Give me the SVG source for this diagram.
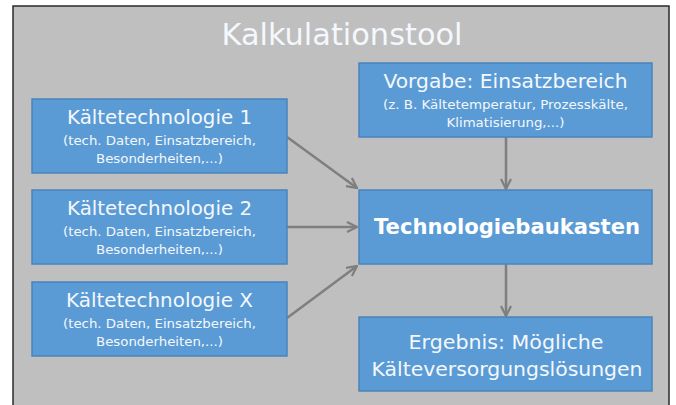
<svg xmlns="http://www.w3.org/2000/svg" width="676" height="405" viewBox="0 0 676 405">
<defs>
<style>
.box{fill:#5b9bd5;stroke:#4a84bb;stroke-width:1.5}
.t{font-family:"DejaVu Sans","Liberation Sans",sans-serif;fill:#f4f8fc;text-anchor:middle}
.h{font-size:20px}
.s{font-size:13px}
.b{font-size:21px;font-weight:bold;fill:#ffffff}
.conn line{stroke:#7f7f7f;stroke-width:2.5}
</style>
<marker id="ah" viewBox="0 0 12 12" refX="11" refY="6" markerWidth="12" markerHeight="12" markerUnits="userSpaceOnUse" orient="auto">
<path d="M1,1 L11,6 L1,11" fill="none" stroke="#7f7f7f" stroke-width="2.2"/>
</marker>
</defs>
<rect x="0" y="0" width="676" height="405" fill="#ffffff"/>
<rect x="13" y="6" width="656" height="405" fill="#bfbfbf" stroke="#2a2a2a" stroke-width="1.5"/>
<text x="342" y="45" class="t" style="font-size:30px" textLength="241" lengthAdjust="spacingAndGlyphs">Kalkulationstool</text>

<g class="conn">
<line x1="287" y1="137" x2="357" y2="188" marker-end="url(#ah)"/>
<line x1="287" y1="227" x2="357" y2="227" marker-end="url(#ah)"/>
<line x1="287" y1="318" x2="357" y2="266" marker-end="url(#ah)"/>
<line x1="506" y1="137" x2="506" y2="189" marker-end="url(#ah)"/>
<line x1="506" y1="264" x2="506" y2="316" marker-end="url(#ah)"/>
</g>

<g id="kt1">
<rect class="box" x="32" y="99" width="255" height="74"/>
<text class="t h" x="159.5" y="124" textLength="185" lengthAdjust="spacingAndGlyphs">Kältetechnologie 1</text>
<text class="t s" x="159.5" y="145" textLength="193" lengthAdjust="spacingAndGlyphs">(tech. Daten, Einsatzbereich,</text>
<text class="t s" x="159.5" y="163" textLength="127" lengthAdjust="spacingAndGlyphs">Besonderheiten,...)</text>
</g>
<g id="kt2">
<rect class="box" x="32" y="190" width="255" height="74"/>
<text class="t h" x="159.5" y="215" textLength="185" lengthAdjust="spacingAndGlyphs">Kältetechnologie 2</text>
<text class="t s" x="159.5" y="236" textLength="193" lengthAdjust="spacingAndGlyphs">(tech. Daten, Einsatzbereich,</text>
<text class="t s" x="159.5" y="254" textLength="127" lengthAdjust="spacingAndGlyphs">Besonderheiten,...)</text>
</g>
<g id="ktx">
<rect class="box" x="32" y="282" width="255" height="74"/>
<text class="t h" x="159.5" y="307" textLength="187" lengthAdjust="spacingAndGlyphs">Kältetechnologie X</text>
<text class="t s" x="159.5" y="328" textLength="193" lengthAdjust="spacingAndGlyphs">(tech. Daten, Einsatzbereich,</text>
<text class="t s" x="159.5" y="346" textLength="127" lengthAdjust="spacingAndGlyphs">Besonderheiten,...)</text>
</g>
<g id="vorgabe">
<rect class="box" x="359" y="63" width="293" height="74"/>
<text class="t h" x="505.5" y="88" textLength="244" lengthAdjust="spacingAndGlyphs">Vorgabe: Einsatzbereich</text>
<text class="t s" x="505.5" y="109" textLength="245" lengthAdjust="spacingAndGlyphs">(z. B. Kältetemperatur, Prozesskälte,</text>
<text class="t s" x="505.5" y="127" textLength="118" lengthAdjust="spacingAndGlyphs">Klimatisierung,...)</text>
</g>
<g id="baukasten">
<rect class="box" x="359" y="190" width="293" height="74"/>
<text class="t b" x="507" y="234" textLength="266" lengthAdjust="spacingAndGlyphs">Technologiebaukasten</text>
</g>
<g id="ergebnis">
<rect class="box" x="359" y="317" width="293" height="74"/>
<text class="t h" x="506" y="349" textLength="195" lengthAdjust="spacingAndGlyphs">Ergebnis: Mögliche</text>
<text class="t h" x="507" y="376" textLength="271" lengthAdjust="spacingAndGlyphs">Kälteversorgungslösungen</text>
</g>
</svg>
